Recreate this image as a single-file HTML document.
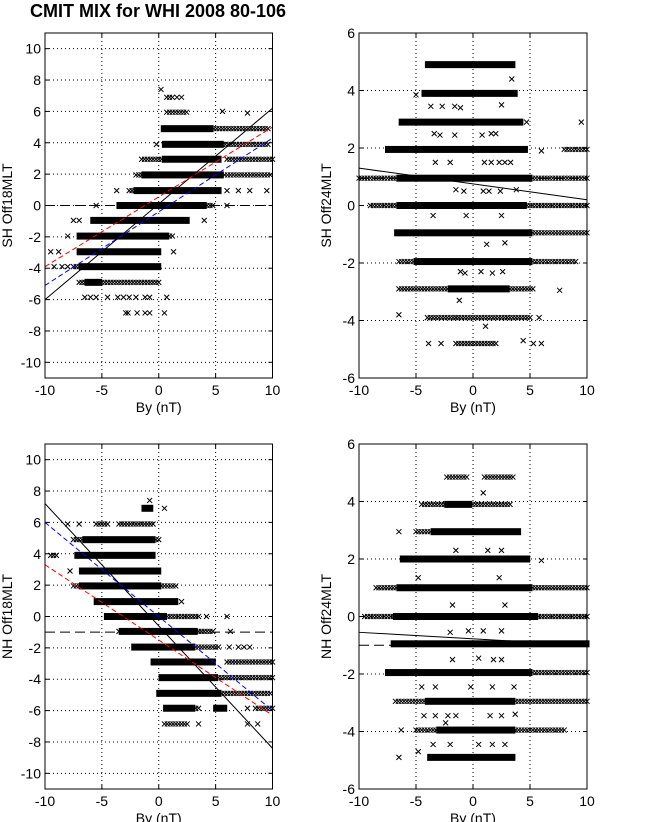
<!DOCTYPE html>
<html><head><meta charset="utf-8">
<style>
html,body{margin:0;padding:0;background:#fff;}
svg{display:block;font-family:"Liberation Sans",sans-serif;}
</style></head>
<body>
<svg id="fig" width="647" height="822" viewBox="0 0 647 822" xmlns="http://www.w3.org/2000/svg">
<text x="30" y="17" font-size="18" font-weight="bold">CMIT MIX for WHI 2008 80-106</text>
</svg>
<script>
// ---------- data ----------
// bands: [level, xStart, xEnd, dense(1)/sparse(0)]
const bandsSH18 = [[6.9,0.7,1.4,0],[5.95,0.7,2.6,0],[4.9,0.4,4.6,1],[4.9,4.6,9.8,0],[3.9,0.5,5.5,1],[3.9,5.6,9.8,0],
 [2.95,0.5,5.3,1],[2.95,-1.5,0.5,0],[2.95,6,10,0],[1.95,-1.3,5.5,1],[1.95,-2,-1.3,0],[1.95,5.8,10,0],
 [0.95,-2,5.3,1],[0.95,-2.6,-2,0],[0,-3.5,4,1],[0,4,4.8,0],[-0.95,-5.8,2.5,1],[-1.95,-7,0.7,1],[-1.95,0.7,1.2,0],
 [-2.95,-7,0,1],[-3.9,-6.8,0,1],[-3.9,-7.5,-6.8,0],[-4.9,-7,0,0],[-4.9,-6.3,-5.2,1]];
const outSH18 = [[0.2,7.4],[1.6,6.9],[2,6.9],[5.6,6],[7.8,5.9],[-0.2,3.9],[-3.7,0.95],[6,0.95],[7,0.95],[8,0.95],[9.5,0.95],
 [-5.5,0],[6,0],[-7.5,-0.95],[-7,-0.95],[4,-0.95],[-8,-1.95],[-9.5,-2.95],[-8.8,-2.95],[1.3,-2.95],[-9.2,-3.9],[-8.5,-3.9],[-8,-3.9],
 [-6.5,-5.85],[-6,-5.85],[-5.5,-5.85],[-4.5,-5.85],[-3.6,-5.85],[-3.1,-5.85],[-2.6,-5.85],[-2,-5.85],[-1.2,-5.85],[-0.8,-5.85],[0.7,-5.85],
 [-2.9,-6.85],[-2.7,-6.85],[-1.9,-6.85],[-1.2,-6.85],[-0.8,-6.85],[0.5,-6.85]];
const bandsSH24 = [[4.9,-4,3.5,1],[3.9,-4.3,3.7,1],[2.9,-6.3,4.2,1],[1.95,-7.5,4.6,1],[1.95,8,10,0],
 [0.95,-6.5,5,1],[0.95,-10,-6.5,0],[0.95,5,10,0],[0,-6.5,4.5,1],[0,-9,-6.5,0],[0,4.5,10,0],
 [-0.95,-6.7,5,1],[-0.95,5,10,0],[-1.95,-5,5,1],[-1.95,-6.5,-5,0],[-1.95,5,9,0],
 [-2.9,-2,3,1],[-2.9,-6.5,-2,0],[-2.9,3,5.3,0],[-3.9,-1.5,3,0],[-3.9,-4,-1.5,0],[-3.9,3,5,0],[-4.8,-1.5,2,0]];
const outSH24 = [[3.4,4.4],[-5,3.85],[-3.7,3.45],[-2.7,3.45],[-1.6,3.45],[-1.1,3.4],[2.5,3.5],[4.7,2.9],[9.5,2.9],
 [-3.4,2.5],[-2.9,2.45],[-1.6,2.45],[0.8,2.45],[1.6,2.5],[2,2.5],[6,1.9],[-3.3,1.5],[-2,1.5],[1,1.5],[1.6,1.5],[2.3,1.5],[2.8,1.5],[3.3,1.5],
 [-1.5,0.55],[-0.8,0.5],[0.9,0.5],[1.4,0.5],[2.4,0.5],[3.8,0.55],[-3.5,-0.35],[-0.6,-0.35],[2.5,-0.35],[1.2,-1.35],[2.8,-1.3],
 [-1.1,-2.3],[-0.7,-2.35],[0.7,-2.3],[1.7,-2.35],[2.6,-2.3],[7.6,-2.95],[-1.2,-3.3],[-6.5,-3.8],[5.8,-3.9],[1.1,-4.2],[-3.9,-4.8],[-2.8,-4.8],[4.4,-4.7],[5.3,-4.8],[6,-4.8]];
const bandsNH18 = [[6.9,-1.3,-0.7,1],[5.9,-3.5,-0.3,0],[5.9,-5.5,-4.5,0],[4.9,-6.5,-0.5,1],[4.9,-7.5,-6.5,0],[4.9,-0.5,0,0],
 [3.9,-7.2,-0.5,1],[3.9,-9.5,-8.8,0],[2.9,-6.8,0,1],[1.95,-6.8,0,1],[1.95,-7.5,-6.8,0],[1.95,0,1.5,0],[0.95,-5.5,1.5,1],
 [0,-4.6,0.5,1],[0,0.5,3.5,0],[-0.95,-3.3,3.2,1],[-0.95,-3.5,4.8,0],[-1.95,-2.2,3,1],[-1.95,3,5.3,0],
 [-2.9,-0.5,4.8,1],[-2.9,6,10,0],[-3.9,0.2,5,1],[-3.9,5,10,0],[-4.9,0,5.3,1],[-4.9,5.3,10,0],
 [-5.85,0.6,3,1],[-5.85,3,3.6,0],[-5.85,5,5.8,1],[-5.85,8.5,10,0],[-6.85,0.5,2.5,0]];
const outNH18 = [[-0.8,7.4],[0.5,6.9],[-8,5.9],[-7,5.9],[-7.8,2.9],[2,0.95],[4.2,0],[6,0],[6.3,-0.95],[6.2,-1.95],[7,-1.95],[7.5,-1.95],[8,-1.95],
 [7.8,-5.85],[3.5,-6.85],[7.8,-6.85],[8.7,-6.85]];
const bandsNH24 = [[4.85,-2.3,-0.5,0],[4.85,1,3.7,0],[3.9,-4.5,3.3,0],[3.9,-2.3,-0.3,1],[2.95,-3.5,4,1],[2.95,-5,-3.5,0],
 [2.0,-6.2,4.8,1],[1.0,-6.5,5,1],[1.0,-8.5,-6.5,0],[1.0,5,10,0],[0,-6.8,5.5,1],[0,-9.5,-6.8,0],[0,5.5,10,0],
 [-0.95,-7,10,1],[-1.95,-7.5,5,1],[-1.95,5,10,0],[-2.95,-4,3.5,1],[-2.95,-6.8,-4,0],[-2.95,3.5,10,0],
 [-3.95,-3,3.5,1],[-3.95,-5,-3,0],[-3.95,3.5,8,0],[-4.9,-3.8,3.5,1]];
const outNH24 = [[0.9,4.3],[-6.5,2.95],[-1.5,2.3],[1.3,2.3],[2.5,2.3],[6,1.95],[-4.8,1.35],[2.3,1.35],[-1.8,0.4],[2.8,0.4],
 [-2,-0.55],[-0.4,-0.5],[0.9,-0.5],[2.5,-0.5],[-1.8,-1.5],[0.5,-1.45],[1.8,-1.5],[2.5,-1.5],[-4.5,-2.45],[-3.3,-2.45],[-0.2,-2.45],[1.7,-2.45],[3.6,-2.45],
 [-4.3,-3.45],[-3.3,-3.45],[-2.2,-3.45],[-1.5,-3.45],[1.5,-3.45],[2.5,-3.45],[3.7,-3.4],[-2.4,-3.7],[-6.3,-3.95],[-4.8,-4.7],[-3.5,-4.45],[-2,-4.45],[0.5,-4.45],[1.7,-4.45],[2.8,-4.45],[-6.5,-4.9]];
// fit lines: [x0,y0,x1,y1]
const fitsSH18 = {black:[-10,-6,10,6.2], red:[-10,-3.9,10,5], blue:[-10,-5.1,10,4.3]};
const fitsNH18 = {black:[-10,7.2,10,-8.4], red:[-10,3.3,10,-6.3], blue:[-10,6,10,-6]};
const fitSH24 = [-10,1.3,10,0.2];
const fitNH24 = [-10,-0.55,10,-1.0];
const xTicks = [-10,-5,0,5,10];
const yTicks18 = [-10,-8,-6,-4,-2,0,2,4,6,8,10];
const yTicks24 = [-6,-4,-2,0,2,4,6];

// ---------- drawing ----------
const svg = document.getElementById('fig');
const NS = 'http://www.w3.org/2000/svg';
function mk(tag, attrs, parent){const e=document.createElementNS(NS,tag);for(const k in attrs)e.setAttribute(k,attrs[k]);(parent||svg).appendChild(e);return e;}

function panel(name, L, R, T, B, ymin, ymax, yTicks, ylabel, bands, outs, hline, fits){
  const g = mk('g',{});
  
  
  const sx = v => L + (v+10)/20*(R-L);
  const sy = v => B - (v-ymin)/(ymax-ymin)*(B-T);
  xTicks.forEach(t=>{ if(t>-10&&t<10){const l=mk('line',{x1:sx(t),x2:sx(t),y1:T,y2:B,stroke:'#000','stroke-width':1,'stroke-dasharray':'1,3'},g);
    
    }});
  yTicks.forEach(t=>{ if(t>ymin&&t<ymax){const l=mk('line',{x1:L,x2:R,y1:sy(t),y2:sy(t),stroke:'#000','stroke-width':1,'stroke-dasharray':'1,3'},g);
    
    }});
  bands.forEach(b=>{
    const y=sy(b[0]);
    if(b[3]){
      const r=mk('rect',{x:sx(b[1])-2.5,y:y-3.5,width:sx(b[2])-sx(b[1])+5,height:7,fill:'#000'},g);
      
      
    } else {
      for(let v=b[1]; v<=b[2]+1e-6; v+=0.25){
        const p=mk('path',{d:`M${sx(v)-2.5},${y-2.5}l5,5M${sx(v)-2.5},${y+2.5}l5,-5`,stroke:'#000','stroke-width':1,fill:'none'},g);
        
        
      }
    }
  });
  outs.forEach(o=>{
    const x=sx(o[0]),y=sy(o[1]);
    const p=mk('path',{d:`M${x-2.5},${y-2.5}l5,5M${x-2.5},${y+2.5}l5,-5`,stroke:'#000','stroke-width':1,fill:'none'},g);
    
    
  });
  const hl=mk('line',{x1:L,x2:R,y1:sy(hline),y2:sy(hline),stroke:'#000','stroke-width':1,'stroke-dasharray':'10,5'},g);
  
  
  const cols={black:['#000',''],red:['#f00','5,3'],blue:['#00f','5,3']};
  for(const k in fits){const f=fits[k];
    const l=mk('line',{x1:sx(f[0]),y1:sy(f[1]),x2:sx(f[2]),y2:sy(f[3]),stroke:cols[k][0],'stroke-width':1,'stroke-dasharray':cols[k][1]||'none'},g);
    
    
  }
  const fr=mk('rect',{x:L,y:T,width:R-L,height:B-T,fill:'none',stroke:'#000','stroke-width':1},g);
  
  
  xTicks.forEach(t=>{
    mk('line',{x1:sx(t),x2:sx(t),y1:B,y2:B-4,stroke:'#000'},g);
    mk('line',{x1:sx(t),x2:sx(t),y1:T,y2:T+4,stroke:'#000'},g);
    const tx=mk('text',{x:sx(t),y:B+17,'font-size':14,'text-anchor':'middle'},g);tx.textContent=t;
    
    
  });
  yTicks.forEach(t=>{
    mk('line',{x1:L,x2:L+4,y1:sy(t),y2:sy(t),stroke:'#000'},g);
    mk('line',{x1:R,x2:R-4,y1:sy(t),y2:sy(t),stroke:'#000'},g);
    const tx=mk('text',{x:L-4,y:sy(t)+5,'font-size':14,'text-anchor':'end'},g);tx.textContent=t;
    
    
  });
  const xl=mk('text',{x:(L+R)/2,y:B+34,'font-size':14,'text-anchor':'middle'},g);xl.textContent='By (nT)';
  
  
  const cy=(T+B)/2, cx=L-(yTicks===yTicks18?33:28);
  const yl=mk('text',{x:cx,y:cy,'font-size':14,'text-anchor':'middle',transform:`rotate(-90 ${cx} ${cy})`},g);yl.textContent=ylabel;
  
  
}
panel('sh-off18mlt-panel',45,272.5,33,378,-11,11,yTicks18,'SH Off18MLT',bandsSH18,outSH18,0,fitsSH18);
panel('sh-off24mlt-panel',359,587,33,378,-6,6,yTicks24,'SH Off24MLT',bandsSH24,outSH24,0.95,{black:fitSH24});
panel('nh-off18mlt-panel',45,272.5,444,789,-11,11,yTicks18,'NH Off18MLT',bandsNH18,outNH18,-1,fitsNH18);
panel('nh-off24mlt-panel',359,587,444,789,-6,6,yTicks24,'NH Off24MLT',bandsNH24,outNH24,-1,{black:fitNH24});
</script>
</body></html>
